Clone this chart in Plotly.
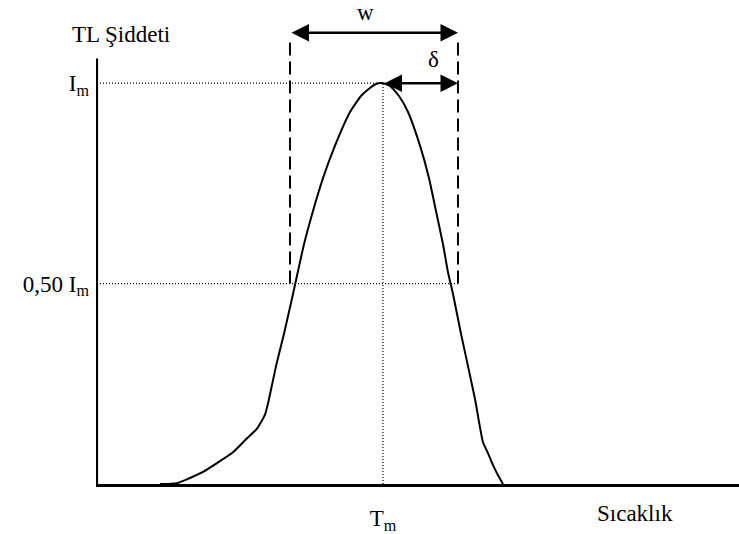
import plotly.graph_objects as go

# Glow curve: temperature (arbitrary units) vs. TL intensity (relative to I_m)
temperature = [63, 80, 93, 106, 120, 136, 150, 160, 168, 172, 179, 187, 196,
               207, 216, 226, 238, 253, 264, 273, 279, 286, 293, 302, 311,
               323, 332, 339, 346, 351, 356, 364, 371, 378, 386, 391, 396,
               401, 406]
intensity = [0.0, 0.002, 0.015, 0.030, 0.052, 0.079, 0.114, 0.138, 0.173,
             0.212, 0.294, 0.375, 0.474, 0.598, 0.681, 0.763, 0.844, 0.928,
             0.968, 0.988, 0.998, 1.0, 0.993, 0.968, 0.928, 0.844, 0.763,
             0.681, 0.598, 0.528, 0.474, 0.375, 0.294, 0.212, 0.104, 0.077,
             0.047, 0.022, 0.0]

Im = 1.0          # peak intensity
half = 0.50       # half-maximum fraction
Tm = 286          # peak temperature
T1 = 193          # low-temperature half-width point
T2 = 361          # high-temperature half-width point

y_axis_top = 1.0616   # drawn height of the vertical axis
dash_top = 1.11       # top of the dashed half-width markers
w_level = 1.126       # height of the w arrow

ytick_vals = [half * Im, Im]
ytick_text = ["0,50 I<sub>m</sub>", "I<sub>m</sub>"]
xtick_vals = [Tm]
xtick_text = ["T<sub>m</sub>"]

FONT = "Liberation Serif"
FS = 23
BLACK = "#000000"

fig = go.Figure()

# vertical axis line
fig.add_trace(go.Scatter(x=[0, 0], y=[0, y_axis_top], mode="lines",
                         line=dict(color=BLACK, width=2.2), hoverinfo="skip"))

# reference lines (dotted)
dot = dict(color=BLACK, width=1.2, dash="1px,2px")
fig.add_trace(go.Scatter(x=[0, Tm], y=[Im, Im], mode="lines", line=dot))
fig.add_trace(go.Scatter(x=[0, T2], y=[half * Im, half * Im], mode="lines", line=dot))
fig.add_trace(go.Scatter(x=[Tm, Tm], y=[0, Im], mode="lines", line=dot))

# half-width markers (dashed)
dash = dict(color=BLACK, width=2, dash="13px,6px")
fig.add_trace(go.Scatter(x=[T1, T1], y=[half * Im, dash_top], mode="lines", line=dash))
fig.add_trace(go.Scatter(x=[T2, T2], y=[half * Im, dash_top], mode="lines", line=dash))

# glow curve
fig.add_trace(go.Scatter(x=temperature, y=intensity, mode="lines",
                         line=dict(color=BLACK, width=2, shape="spline", smoothing=0.5)))

# double-headed arrows for w and delta
arrow = dict(showarrow=True, text="", xref="x", yref="y", axref="x", ayref="y",
             arrowside="end+start", arrowhead=2, startarrowhead=2,
             arrowsize=1.4, startarrowsize=1.4, arrowwidth=2.5,
             arrowcolor=BLACK, standoff=0, startstandoff=0)
fig.add_annotation(x=T2, y=w_level, ax=T1, ay=w_level, **arrow)
fig.add_annotation(x=T2, y=Im, ax=Tm, ay=Im, **arrow)

fig.add_annotation(x=268, y=1.175, text="w", showarrow=False,
                   font=dict(family=FONT, size=FS, color=BLACK))
fig.add_annotation(x=336, y=1.059, text="δ", showarrow=False,
                   font=dict(family=FONT, size=FS, color=BLACK))

fig.add_annotation(x=0.039, y=0.928, xref="paper", yref="paper",
                   xanchor="center", yanchor="middle",
                   text="TL Şiddeti", showarrow=False,
                   font=dict(family=FONT, size=FS, color=BLACK))
fig.add_annotation(x=0.838, y=-0.06, xref="paper", yref="paper",
                   xanchor="center", yanchor="middle",
                   text="Sıcaklık", showarrow=False,
                   font=dict(family=FONT, size=FS, color=BLACK))

fig.update_layout(
    width=739, height=534,
    margin=dict(l=96, r=0, t=0, b=45),
    paper_bgcolor="white", plot_bgcolor="white",
    showlegend=False,
    font=dict(family=FONT, size=FS, color=BLACK),
    xaxis=dict(range=[-1, 642], showgrid=False, zeroline=False,
               showline=True, linecolor=BLACK, linewidth=2.5,
               tickvals=xtick_vals, ticktext=xtick_text, ticks="",
               ticklabelstandoff=12, fixedrange=True),
    yaxis=dict(range=[0, 1.2074], showgrid=False, zeroline=False,
               showline=False, tickvals=ytick_vals, ticktext=ytick_text,
               ticks="", ticklabelstandoff=6, fixedrange=True),
)

fig.write_html("out.html")
